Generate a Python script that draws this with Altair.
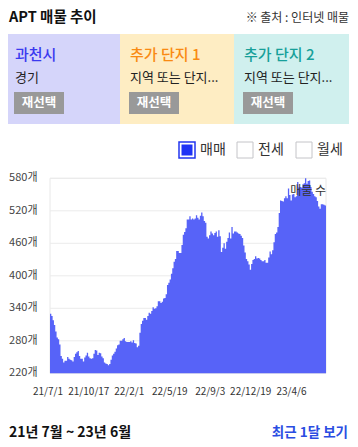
import altair as alt
import pandas as pd

FONT = "Noto Sans CJK KR"

# ---- data ----
counts = [
    330, 326, 318, 309, 297, 286, 283, 273, 252, 247, 240, 243, 243, 250, 247, 245, 244, 242, 250, 256,
    259, 261, 252, 247, 247, 242, 249, 253, 258, 251, 248, 247, 248, 256, 263, 262, 254, 258, 257, 251,
    248, 240, 238, 237, 235, 237, 245, 253, 256, 260, 266, 272, 273, 280, 280, 283, 285,
    279, 278, 278, 278, 279, 277, 281, 276, 275, 268, 271, 295, 311, 317, 322, 322, 319, 326, 332,
    330, 335, 342, 339, 340, 344, 353, 353, 350, 352, 358, 359, 366, 383, 387, 393, 404, 414, 426, 431,
    446, 446, 442, 442, 457, 476, 481, 488, 504, 504, 510, 504, 506, 504,
    506, 512, 507, 504, 511, 517, 510, 501, 498, 472, 469, 475, 482, 478, 475, 479, 482, 472, 484, 473,
    444, 452, 460, 450, 463, 470, 480, 469, 490, 478, 482, 482, 480, 478, 477, 474, 470, 456, 443, 431,
    427, 421, 411, 422, 429, 431, 436, 432, 433, 432, 429, 427,
    427, 429, 424, 424, 434, 445, 440, 447, 462, 477, 480, 490, 516, 539, 538, 537, 543, 547, 543, 561,
    549, 539, 550, 551, 545, 547, 573, 563, 564, 563, 569, 571, 580, 570, 575, 576, 564, 555, 551, 547,
    545, 538, 528, 524, 532, 532, 531, 530,
]
start_date = "2021-07-01"
end_date = "2023-07-01"
y_ticks = [220, 280, 340, 400, 460, 520, 580]
y_tick_labels = [f"{v}개" for v in y_ticks]
x_tick_dates = ["2021-07-01", "2021-10-17", "2022-02-01", "2022-05-19", "2022-09-03", "2022-12-19", "2023-04-06"]
x_tick_labels = ["21/7/1", "21/10/17", "22/2/1", "22/5/19", "22/9/3", "22/12/19", "23/4/6"]
legend_items = ["매매", "전세", "월세"]
box_titles = ["과천시", "추가 단지 1", "추가 단지 2"]
box_subtitles = ["경기", "지역 또는 단지...", "지역 또는 단지..."]


def ms(d):
    return pd.Timestamp(d, tz="UTC").timestamp() * 1000


t0, t1 = ms(start_date), ms(end_date)
step = (t1 - t0) / len(counts)
series = pd.DataFrame({
    "date": [t0 + i * step for i in range(len(counts))] + [t1],
    "count": counts + [counts[-1]],
})
yt = pd.DataFrame({"v": y_ticks, "label": y_tick_labels})
xt = pd.DataFrame({"d": [ms(d) for d in x_tick_dates], "label": x_tick_labels})

W, H = 342, 431
xs = alt.Scale(type="linear", domain=[t0, t1], range=[42, 318], nice=False, zero=False)
ys = alt.Scale(type="linear", domain=[220, 580], range=[365.3, 170.3], nice=False, zero=False)

one = pd.DataFrame({"a": [0]})


def text(t, x, y, size, color="#333333", weight="normal", align="left"):
    return alt.Chart(pd.DataFrame({"t": [t]})).mark_text(
        font=FONT, fontSize=size, color=color, fontWeight=weight, align=align, baseline="middle"
    ).encode(x=alt.value(x), y=alt.value(y), text="t:N")


def rect(x, x2, y, y2, fill, stroke=None, sw=1):
    kw = {"fill": fill}
    if stroke:
        kw["stroke"] = stroke
        kw["strokeWidth"] = sw
    return alt.Chart(one).mark_rect(**kw).encode(
        x=alt.value(x), x2=alt.value(x2), y=alt.value(y), y2=alt.value(y2)
    )


layers = []
# header
layers.append(text("APT 매물 추이", 1, 9.5, 14.5, "#111111", "bold"))
layers.append(text("※ 출처 : 인터넷 매물", 341, 10, 12, "#333333", align="right"))

box_x = [(0, 112), (112, 226), (226, 341)]
box_fill = ["#d5d5fa", "#feedc3", "#d0f0ee"]
title_col = ["#3a3af0", "#f98a12", "#17a09a"]
for i in range(3):
    x0, x1 = box_x[i]
    layers.append(rect(x0, x1, 26, 116, box_fill[i]))
    layers.append(text(box_titles[i], x0 + 7 + (3 if i else 0), 47, 15, title_col[i], 500))
    layers.append(text(box_subtitles[i], x0 + 7 + (3 if i else 0), 70, 13, "#222222"))
    bx = x0 + 6 + (3 if i else 0)
    layers.append(rect(bx, bx + 50, 84, 106, "#999999"))
    layers.append(text("재선택", bx + 25, 95, 12.5, "#ffffff", "bold", "center"))

# legend
sq_x = [171, 229, 288]
for i in range(3):
    if i == 0:
        layers.append(rect(sq_x[i], sq_x[i] + 16, 134, 150, "#ffffff", "#2236ef", 1.5))
        layers.append(rect(sq_x[i] + 2.5, sq_x[i] + 13.5, 136.5, 147.5, "#1f33f5"))
    else:
        layers.append(rect(sq_x[i], sq_x[i] + 16, 134, 150, "#ffffff", "#c4c4c8", 1))
    layers.append(text(legend_items[i], sq_x[i] + 21, 142, 14, "#333333"))

# plot frame + grid
layers.append(rect(42, 318, 170.3, 365.3, "#ffffff", "#e8e8e8", 1))
layers.append(
    alt.Chart(yt).mark_rule(color="#ebebeb", strokeWidth=1).encode(
        y=alt.Y("v:Q", scale=ys, axis=None), x=alt.value(42), x2=alt.value(318)
    )
)
# data area
layers.append(
    alt.Chart(series).mark_area(interpolate="step-after", color="#5763f8", opacity=1).encode(
        x=alt.X("date:Q", scale=xs, axis=None),
        y=alt.Y("count:Q", scale=ys, axis=None),
        y2=alt.datum(220),
    )
)
# axis labels
layers.append(
    alt.Chart(yt).mark_text(font=FONT, fontSize=11, color="#444444", align="right", baseline="middle").encode(
        y=alt.Y("v:Q", scale=ys, axis=None), x=alt.value(29.5), text="label:N"
    )
)
layers.append(
    alt.Chart(xt).mark_text(font=FONT, fontSize=10, color="#333333", align="center", baseline="middle", dx=-2).encode(
        x=alt.X("d:Q", scale=xs, axis=None), y=alt.value(383.5), text="label:N"
    )
)
layers.append(text("매물 수", 318, 182.5, 12, "#333333", align="right"))

# footer
layers.append(text("21년 7월 ~ 23년 6월", 1, 424.5, 14, "#111111", "bold"))
layers.append(text("최근 1달 보기", 340, 424.5, 13.5, "#2a4de2", "bold", "right"))

chart = alt.layer(*layers).properties(
    width=W, height=H, autosize=alt.AutoSizeParams(type="none"), padding=0
).configure_view(stroke=None)

chart.save("out.html", embed_options={"renderer": "svg", "actions": False})
